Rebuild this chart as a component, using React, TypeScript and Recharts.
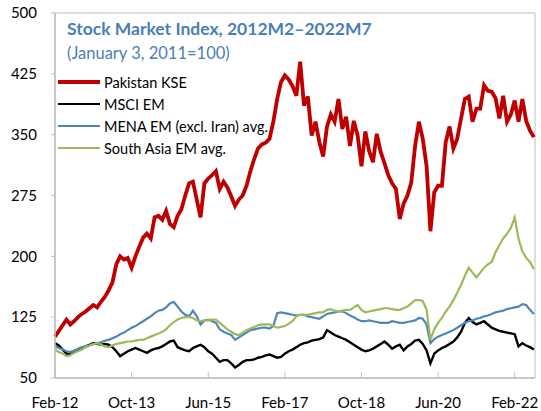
import { LineChart, Line, XAxis, YAxis, ReferenceArea } from "recharts";

// month index 0 = Feb-12 ... 125 = Jul-22
const kse = [
  101, 108, 115, 122, 116, 120, 125, 129, 132, 136,
  140, 137, 144, 150, 158, 168, 190, 200, 196, 198,
  186, 200, 212, 223, 228, 222, 248, 250, 245, 256,
  240, 236, 250, 258, 275, 290, 292, 270, 248, 290,
  296, 300, 305, 283, 292, 285, 274, 262, 270, 275,
  287, 305, 320, 333, 338, 340, 345, 366, 394, 415,
  423, 418, 410, 398, 440, 386, 397, 349, 366, 341,
  323, 360, 375, 366, 394, 357, 372, 336, 367, 349,
  311, 354, 330, 316, 351, 329, 315, 300, 290, 283,
  246, 265, 275, 291, 336, 366, 345, 311, 231, 279,
  287, 287, 341, 360, 333, 345, 370, 394, 397, 366,
  382, 382, 411, 404, 403, 395, 370, 398, 366, 375,
  392, 366, 394, 367, 355, 347,
];

const msci = [
  93, 90, 85, 80, 79, 82, 85, 86, 89, 91,
  93, 92, 91, 92, 91, 88, 83, 77, 80, 83,
  85, 87, 85, 83, 81, 84, 86, 87, 89, 92,
  95, 96, 88, 86, 84, 83, 87, 89, 91, 88,
  83, 80, 75, 70, 72, 72, 68, 63, 66, 70,
  72, 72, 73, 75, 76, 78, 79, 77, 75, 76,
  80, 83, 85, 88, 91, 93, 94, 96, 97, 98,
  100, 109, 106, 103, 101, 99, 97, 94, 91, 88,
  85, 83, 84, 86, 89, 92, 95, 91, 86, 89,
  91, 84, 89, 92, 96, 97, 92, 84, 68, 80,
  84, 87, 89, 92, 95, 100, 107, 118, 124, 119,
  116, 118, 120, 116, 112, 110, 108, 107, 106, 105,
  104, 89, 93, 90, 88, 85,
];

const mena = [
  89, 87, 85, 83, 82, 84, 86, 88, 89, 90,
  92, 93, 94, 96, 97, 99, 101, 104, 106, 109,
  112, 114, 117, 120, 123, 126, 130, 133, 134, 137,
  142, 144, 138, 132, 128, 126, 133, 126, 116, 121,
  122, 120, 118, 110, 107, 105, 103, 97, 100, 103,
  106, 109, 110, 111, 112, 112, 111, 114, 130, 131,
  130, 129, 128, 127, 128, 128, 126, 125, 124, 123,
  126, 129, 130, 131, 132, 132, 130, 127, 125, 122,
  120, 120, 121, 120, 119, 118, 118, 118, 120, 119,
  118, 118, 119, 120, 121, 124, 123, 116, 93, 98,
  101, 103, 105, 107, 109, 112, 115, 118, 120, 121,
  123, 124, 126, 127, 129, 131, 132, 133, 135, 136,
  137, 138, 141, 140, 134, 129,
];

const southAsia = [
  85, 82, 80, 77, 78, 81, 83, 85, 88, 90,
  92, 93, 91, 89, 88, 90, 92, 93, 94, 95,
  95, 96, 97, 97, 99, 101, 103, 105, 107, 110,
  115, 119, 122, 124, 125, 125, 124, 121, 120, 121,
  121, 122, 122, 118, 114, 110, 107, 104, 103, 106,
  109, 111, 113, 115, 116, 116, 116, 114, 112, 113,
  114, 117, 120, 126, 128, 128, 128, 129, 130, 131,
  131, 134, 135, 133, 132, 133, 134, 134, 137, 140,
  134, 131, 132, 133, 134, 135, 136, 136, 135, 134,
  134, 136, 138, 142, 146, 146, 145, 134, 97, 110,
  118, 124, 132, 138, 146, 155, 165, 176, 186, 180,
  174, 180, 186, 190, 193, 205, 214, 222, 228, 235,
  248, 222, 206, 198, 193, 184,
];

const xTicks = [0, 20, 40, 60, 80, 100, 120];
const xTickLabels = ["Feb-12", "Oct-13", "Jun-15", "Feb-17", "Oct-18", "Jun-20", "Feb-22"];
const yTicks = [50, 125, 200, 275, 350, 425, 500];

const series = [
  { key: "kse", name: "Pakistan KSE", color: "#c00000", width: 3.8 },
  { key: "msci", name: "MSCI EM", color: "#000000", width: 2.4 },
  { key: "mena", name: "MENA EM (excl. Iran) avg.", color: "#4f86b8", width: 2.2 },
  { key: "sa", name: "South Asia EM avg.", color: "#9bbb59", width: 2.2 },
];

const data = kse.map((v, i) => ({
  m: i,
  kse: v,
  msci: msci[i],
  mena: mena[i],
  sa: southAsia[i],
}));

const FONT = "Lato, 'Noto Sans', sans-serif";
const GRAY = "#bfbfbf";
const BLUE_TEXT = "#4a7fb5";

export default function App() {
  return (
    <div style={{ position: "absolute", left: 0, top: 0, width: 541, height: 411, background: "#fff" }}>
      <LineChart width={541} height={411} data={data} margin={{ top: 13, right: 6, bottom: 0, left: 0 }}>
        <ReferenceArea x1={0} x2={125.3} y1={50} y2={500} fill="none" stroke={GRAY} strokeWidth={1} />
        <XAxis
          dataKey="m"
          type="number"
          domain={[0, 125.3]}
          ticks={xTicks}
          interval={0}
          tickFormatter={(v) => xTickLabels[xTicks.indexOf(v)]}
          height={33}
          tickSize={-6}
          tickMargin={25}
          axisLine={{ stroke: GRAY, strokeWidth: 1.5 }}
          tickLine={{ stroke: GRAY }}
          tick={{ fontSize: 15, fill: "#000", fontFamily: FONT }}
        />
        <YAxis
          type="number"
          domain={[50, 500]}
          ticks={yTicks}
          interval={0}
          width={55}
          tickSize={4}
          tickMargin={14}
          axisLine={{ stroke: GRAY, strokeWidth: 1.5 }}
          tickLine={{ stroke: GRAY }}
          tick={{ fontSize: 15, fill: "#000", fontFamily: FONT }}
        />
        {series.map((s) => (
          <Line
            key={s.key}
            type="linear"
            dataKey={s.key}
            name={s.name}
            stroke={s.color}
            strokeWidth={s.width}
            dot={false}
            isAnimationActive={false}
          />
        ))}
      </LineChart>

      {/* title + legend sit inside the plot box, top left */}
      <div
        style={{
          position: "absolute",
          left: 67,
          top: 18,
          fontFamily: FONT,
          fontSize: 17.5,
          fontWeight: 700,
          color: BLUE_TEXT,
          whiteSpace: "nowrap",
        }}
      >
        Stock Market Index, 2012M2–2022M7
      </div>
      <div
        style={{
          position: "absolute",
          left: 67,
          top: 43,
          fontFamily: FONT,
          fontSize: 16.5,
          color: BLUE_TEXT,
          whiteSpace: "nowrap",
        }}
      >
        (January 3, 2011=100)
      </div>
      <div style={{ position: "absolute", left: 58, top: 71, fontFamily: FONT, fontSize: 14.5, color: "#000" }}>
        {series.map((s) => (
          <div key={s.key} style={{ display: "flex", alignItems: "center", height: 22 }}>
            <div style={{ width: 42, height: s.key === "kse" ? 3.5 : 2, background: s.color, marginRight: 4 }} />
            <span>{s.name}</span>
          </div>
        ))}
      </div>
    </div>
  );
}
